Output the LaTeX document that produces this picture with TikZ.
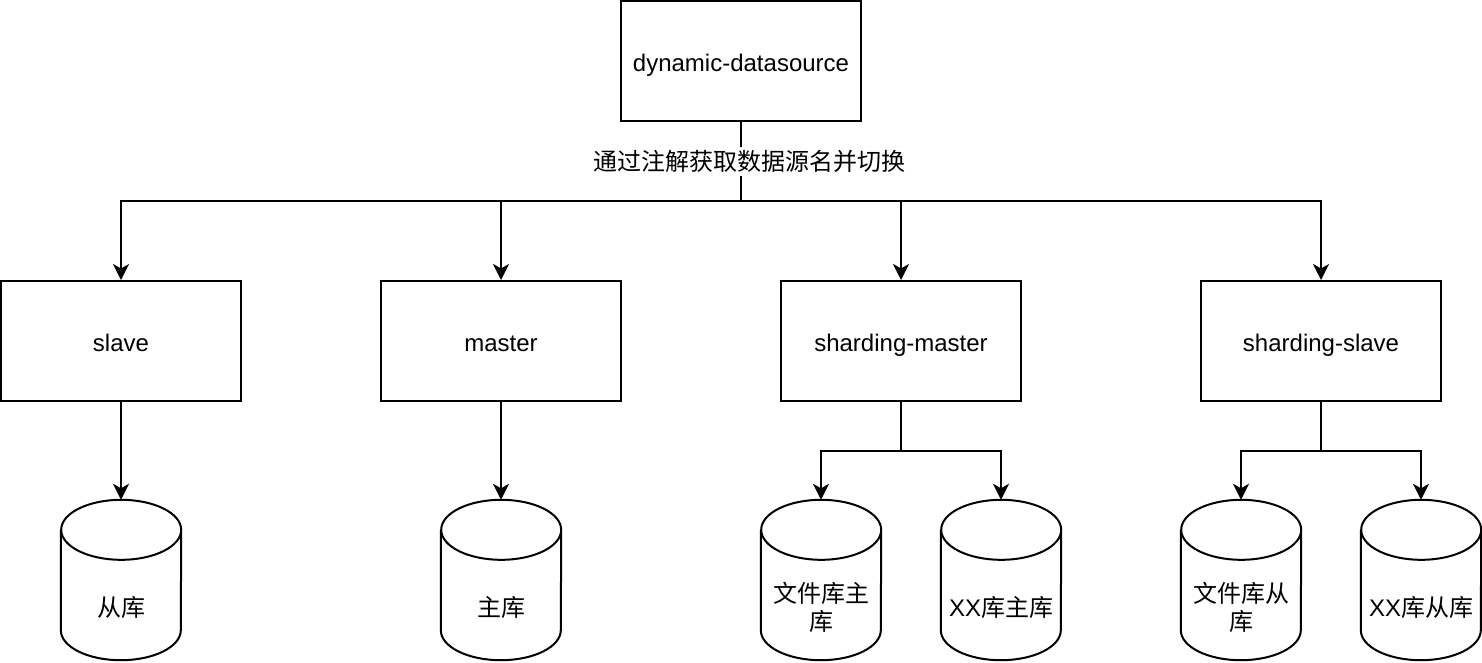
\documentclass[tikz,border=0pt]{standalone}
\usepackage{fontspec}
\setmainfont{Liberation Sans}
\newfontfamily\cjk{Noto Sans CJK SC}
\usetikzlibrary{arrows.meta,positioning,calc}
\tikzset{
  box/.style={draw, line width=2pt, minimum width=240pt, minimum height=120pt, inner sep=0pt, text height=24pt, text depth=4pt, font=\fontsize{24}{28}\selectfont},
  cylbox/.style={draw=none, minimum width=120pt, minimum height=160pt, inner sep=0pt},
  cyltext/.style={font=\fontsize{24}{28}\selectfont, align=center, inner sep=0pt},
  conn/.style={line width=2pt},
  arr/.style={conn, -{Stealth[length=16pt,width=16pt,inset=4.5pt]}},
  lbl/.style={fill=white, inner xsep=1pt, inner ysep=3pt, font=\fontsize{24}{28}\selectfont}
}
\newcommand{\drawcyl}[1]{%
  \draw[line width=2pt] ([yshift=-30pt]#1.north west) -- ([yshift=30pt]#1.south west)
    arc[start angle=180,end angle=360,x radius=60pt,y radius=30pt]
    -- ([yshift=-30pt]#1.north east)
    arc[start angle=0,end angle=180,x radius=60pt,y radius=30pt]
    arc[start angle=180,end angle=360,x radius=60pt,y radius=30pt];}
\begin{document}
\begin{tikzpicture}[x=1pt,y=-1pt]
\useasboundingbox (0,0) rectangle (1482,662);
% top
\node[box] (top) at (741,61) {dynamic-datasource};
\coordinate (bus) at (741,201);
% second row
\node[box] (slave) at (121,341) {slave};
\node[box] (master) at (501,341) {master};
\node[box] (smaster) at (901,341) {sharding-master};
\node[box] (sslave) at (1321,341) {sharding-slave};
% cylinders
\node[cylbox] (c1) at (121,580) {};
\node[cylbox] (c2) at (501,580) {};
\node[cylbox] (c3) at (821,580) {};
\node[cylbox] (c4) at (1001,580) {};
\node[cylbox] (c5) at (1241,580) {};
\node[cylbox] (c6) at (1421,580) {};
\foreach \c in {c1,c2,c3,c4,c5,c6} {\drawcyl{\c}}
\node[cyltext] (t1) at ([yshift=-27pt]c1.center) {\cjk 从库};
\node[cyltext] (t2) at ([yshift=-27pt]c2.center) {\cjk 主库};
\node[cyltext] (t3) at ([yshift=-27pt]c3.center) {\cjk 文件库主\\\cjk 库};
\node[cyltext] (t4) at ([yshift=-27pt]c4.center) {XX{\cjk 库主库}};
\node[cyltext] (t5) at ([yshift=-27pt]c5.center) {\cjk 文件库从\\\cjk 库};
\node[cyltext] (t6) at ([yshift=-27pt]c6.center) {XX{\cjk 库从库}};
% connectors
\draw[conn] (top.south) -- node[lbl, xshift=8pt] {\cjk 通过注解获取数据源名并切换} (bus);
\draw[arr] (bus) -| (slave.north);
\draw[arr] (bus) -| (master.north);
\draw[arr] (bus) -| (smaster.north);
\draw[arr] (bus) -| (sslave.north);
\draw[arr] (slave.south) -- (c1.north);
\draw[arr] (master.south) -- (c2.north);
\coordinate (smj) at (901,451);
\coordinate (ssj) at (1321,451);
\draw[conn] (smaster.south) -- (smj);
\draw[arr] (smj) -| (c3.north);
\draw[arr] (smj) -| (c4.north);
\draw[conn] (sslave.south) -- (ssj);
\draw[arr] (ssj) -| (c5.north);
\draw[arr] (ssj) -| (c6.north);
\end{tikzpicture}
\end{document}
